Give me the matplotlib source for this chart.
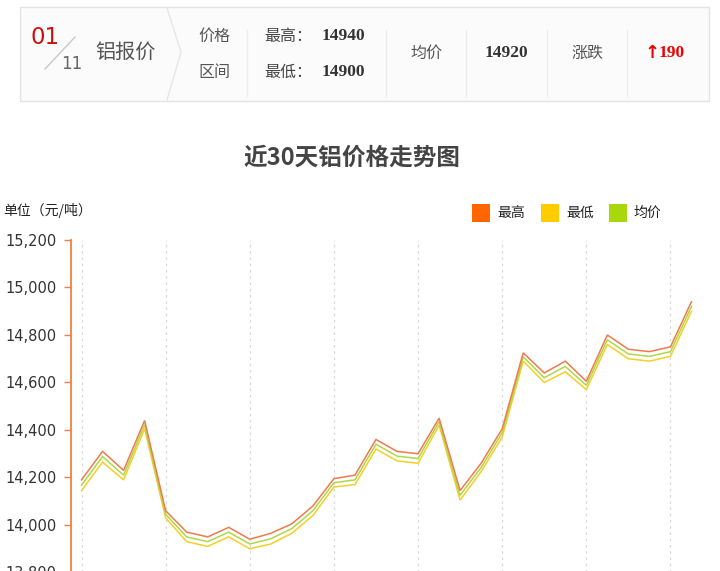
import matplotlib
matplotlib.use("Agg")
import matplotlib.pyplot as plt
from matplotlib.patches import Rectangle
from matplotlib.lines import Line2D
from matplotlib.ticker import FuncFormatter

plt.rcParams['font.family'] = ['Noto Sans CJK SC', 'DejaVu Sans']

# ---------------- data ----------------
days = list(range(30))
high = [14190, 14310, 14230, 14440, 14060, 13970, 13950, 13990, 13940, 13965,
        14005, 14080, 14195, 14210, 14360, 14310, 14300, 14450, 14145, 14260,
        14405, 14725, 14640, 14690, 14605, 14800, 14740, 14730, 14750, 14940]
low = [14145, 14265, 14190, 14405, 14030, 13930, 13910, 13950, 13900, 13920,
       13965, 14040, 14160, 14170, 14320, 14270, 14260, 14420, 14105, 14225,
       14370, 14690, 14600, 14645, 14570, 14760, 14700, 14690, 14710, 14900]
avg = [14168, 14288, 14210, 14422, 14045, 13950, 13930, 13970, 13920, 13942,
       13985, 14060, 14178, 14190, 14340, 14290, 14280, 14435, 14125, 14242,
       14388, 14708, 14620, 14668, 14588, 14780, 14720, 14710, 14730, 14920]
y_ticks = [13800, 14000, 14200, 14400, 14600, 14800, 15000, 15200]
series_names = ['最高', '最低', '均价']
title = '近30天铝价格走势图'
unit_label = '单位（元/吨）'
metal = '铝报价'

W, H = 720, 571
fig = plt.figure(figsize=(W / 100, H / 100), dpi=100)
fig.patch.set_facecolor('white')


def fx(px):
    return px / W


def fy(py):
    return 1 - py / H


# ---------------- header panel ----------------
fig.patches.append(Rectangle((fx(20), fy(101)), fx(689), 94 / H, transform=fig.transFigure,
                             facecolor='#fbfbfb', edgecolor='#e4e4e4', linewidth=1))
for xs in [247, 386, 466, 547, 627]:
    fig.lines.append(Line2D([fx(xs), fx(xs)], [fy(30), fy(96)], transform=fig.transFigure,
                            color='#ececec', linewidth=1))
fig.lines.append(Line2D([fx(167), fx(181), fx(167)], [fy(8), fy(52), fy(100)],
                        transform=fig.transFigure, color='#e6e6e6', linewidth=1))
fig.lines.append(Line2D([fx(45), fx(75)], [fy(69), fy(37)], transform=fig.transFigure,
                        color='#c8c8c8', linewidth=1))
fig.text(fx(31), fy(38), '01', color='#cc1111', fontsize=16.5, family='DejaVu Sans',
         ha='left', va='center')
fig.text(fx(61), fy(64), '11', color='#666666', fontsize=12, family='DejaVu Sans',
         ha='left', va='center')
fig.text(fx(95), fy(52), metal, color='#555555', fontsize=14.5, ha='left', va='center')
fig.text(fx(214), fy(36), '价格', color='#555555', fontsize=11.5, ha='center', va='center')
fig.text(fx(214), fy(72), '区间', color='#555555', fontsize=11.5, ha='center', va='center')
fig.text(fx(264), fy(36), '最高：', color='#444444', fontsize=11.5, ha='left', va='center')
fig.text(fx(264), fy(72), '最低：', color='#444444', fontsize=11.5, ha='left', va='center')
num_font = dict(color='#333333', fontsize=12.5, weight='bold', family='Liberation Serif')
fig.text(fx(322), fy(36), f'{high[-1]}', ha='left', va='center', **num_font)
fig.text(fx(322), fy(72), f'{low[-1]}', ha='left', va='center', **num_font)
fig.text(fx(426), fy(53), '均价', color='#555555', fontsize=11.5, ha='center', va='center')
fig.text(fx(506), fy(53), f'{avg[-1]}', ha='center', va='center', **num_font)
fig.text(fx(587), fy(53), '涨跌', color='#555555', fontsize=11.5, ha='center', va='center')
change = avg[-1] - avg[-2]
fig.text(fx(652), fy(53), '↑' if change >= 0 else '↓', color='#ee0000', fontsize=13,
         weight='bold', family='DejaVu Sans', ha='center', va='center')
fig.text(fx(659), fy(53), f'{abs(change)}', color='#ee0000', fontsize=12.5, weight='bold',
         family='Liberation Serif', ha='left', va='center')

# ---------------- title / unit / legend ----------------
fig.text(fx(352), fy(158), title, color='#444444', fontsize=17, weight='bold',
         ha='center', va='center')
fig.text(fx(3), fy(211), unit_label, color='#222222', fontsize=10, ha='left', va='center')

colors = {'最高': '#ff6600', '最低': '#ffcc00', '均价': '#a8d80a'}
line_colors = {'最高': '#f07a4e', '最低': '#f5cf25', '均价': '#aed84a'}
leg_x = [472, 541, 609]
for name, lx in zip(series_names, leg_x):
    fig.patches.append(Rectangle((fx(lx), fy(222)), fx(18), 18 / H, transform=fig.transFigure,
                                 facecolor=colors[name], edgecolor='none'))
    fig.text(fx(lx + 25), fy(213), name, color='#222222', fontsize=10, ha='left', va='center')

# ---------------- axes ----------------
y_top, y_bot = 15200, 13600
px_per_unit = 47.5 / 200
ax_top_px = 240
ax_bot_px = ax_top_px + (y_top - y_bot) * px_per_unit
ax_left_px, ax_right_px = 71, 702
ax = fig.add_axes([fx(ax_left_px), fy(ax_bot_px), fx(ax_right_px - ax_left_px),
                   (ax_bot_px - ax_top_px) / H])
ax.set_facecolor('none')

for name, vals in [('最低', low), ('均价', avg), ('最高', high)]:
    ax.plot(days, vals, color=line_colors[name], linewidth=1.1, solid_joinstyle='miter')

ax.set_xlim(-0.5, 29.5)
ax.set_ylim(y_bot, y_top)
ax.set_yticks(y_ticks)
ax.yaxis.set_major_formatter(FuncFormatter(lambda v, p: f'{int(v):,}'))
ax.set_xticks(days[::4])
ax.set_xticklabels([])
ax.tick_params(axis='x', length=0)
ax.tick_params(axis='y', length=5, width=1, color='#f08040', labelsize=10.5,
               labelcolor='#333333', pad=5.5)
for lab in ax.get_yticklabels():
    lab.set_family('DejaVu Sans')
ax.grid(axis='x', color='#d8d8d8', linestyle=(0, (2, 3)), linewidth=0.9)
ax.grid(axis='y', visible=False)
for s in ['top', 'right', 'bottom']:
    ax.spines[s].set_visible(False)
ax.spines['left'].set_color('#f08040')
ax.spines['left'].set_linewidth(1.3)

fig.savefig('out.png', dpi=100)
